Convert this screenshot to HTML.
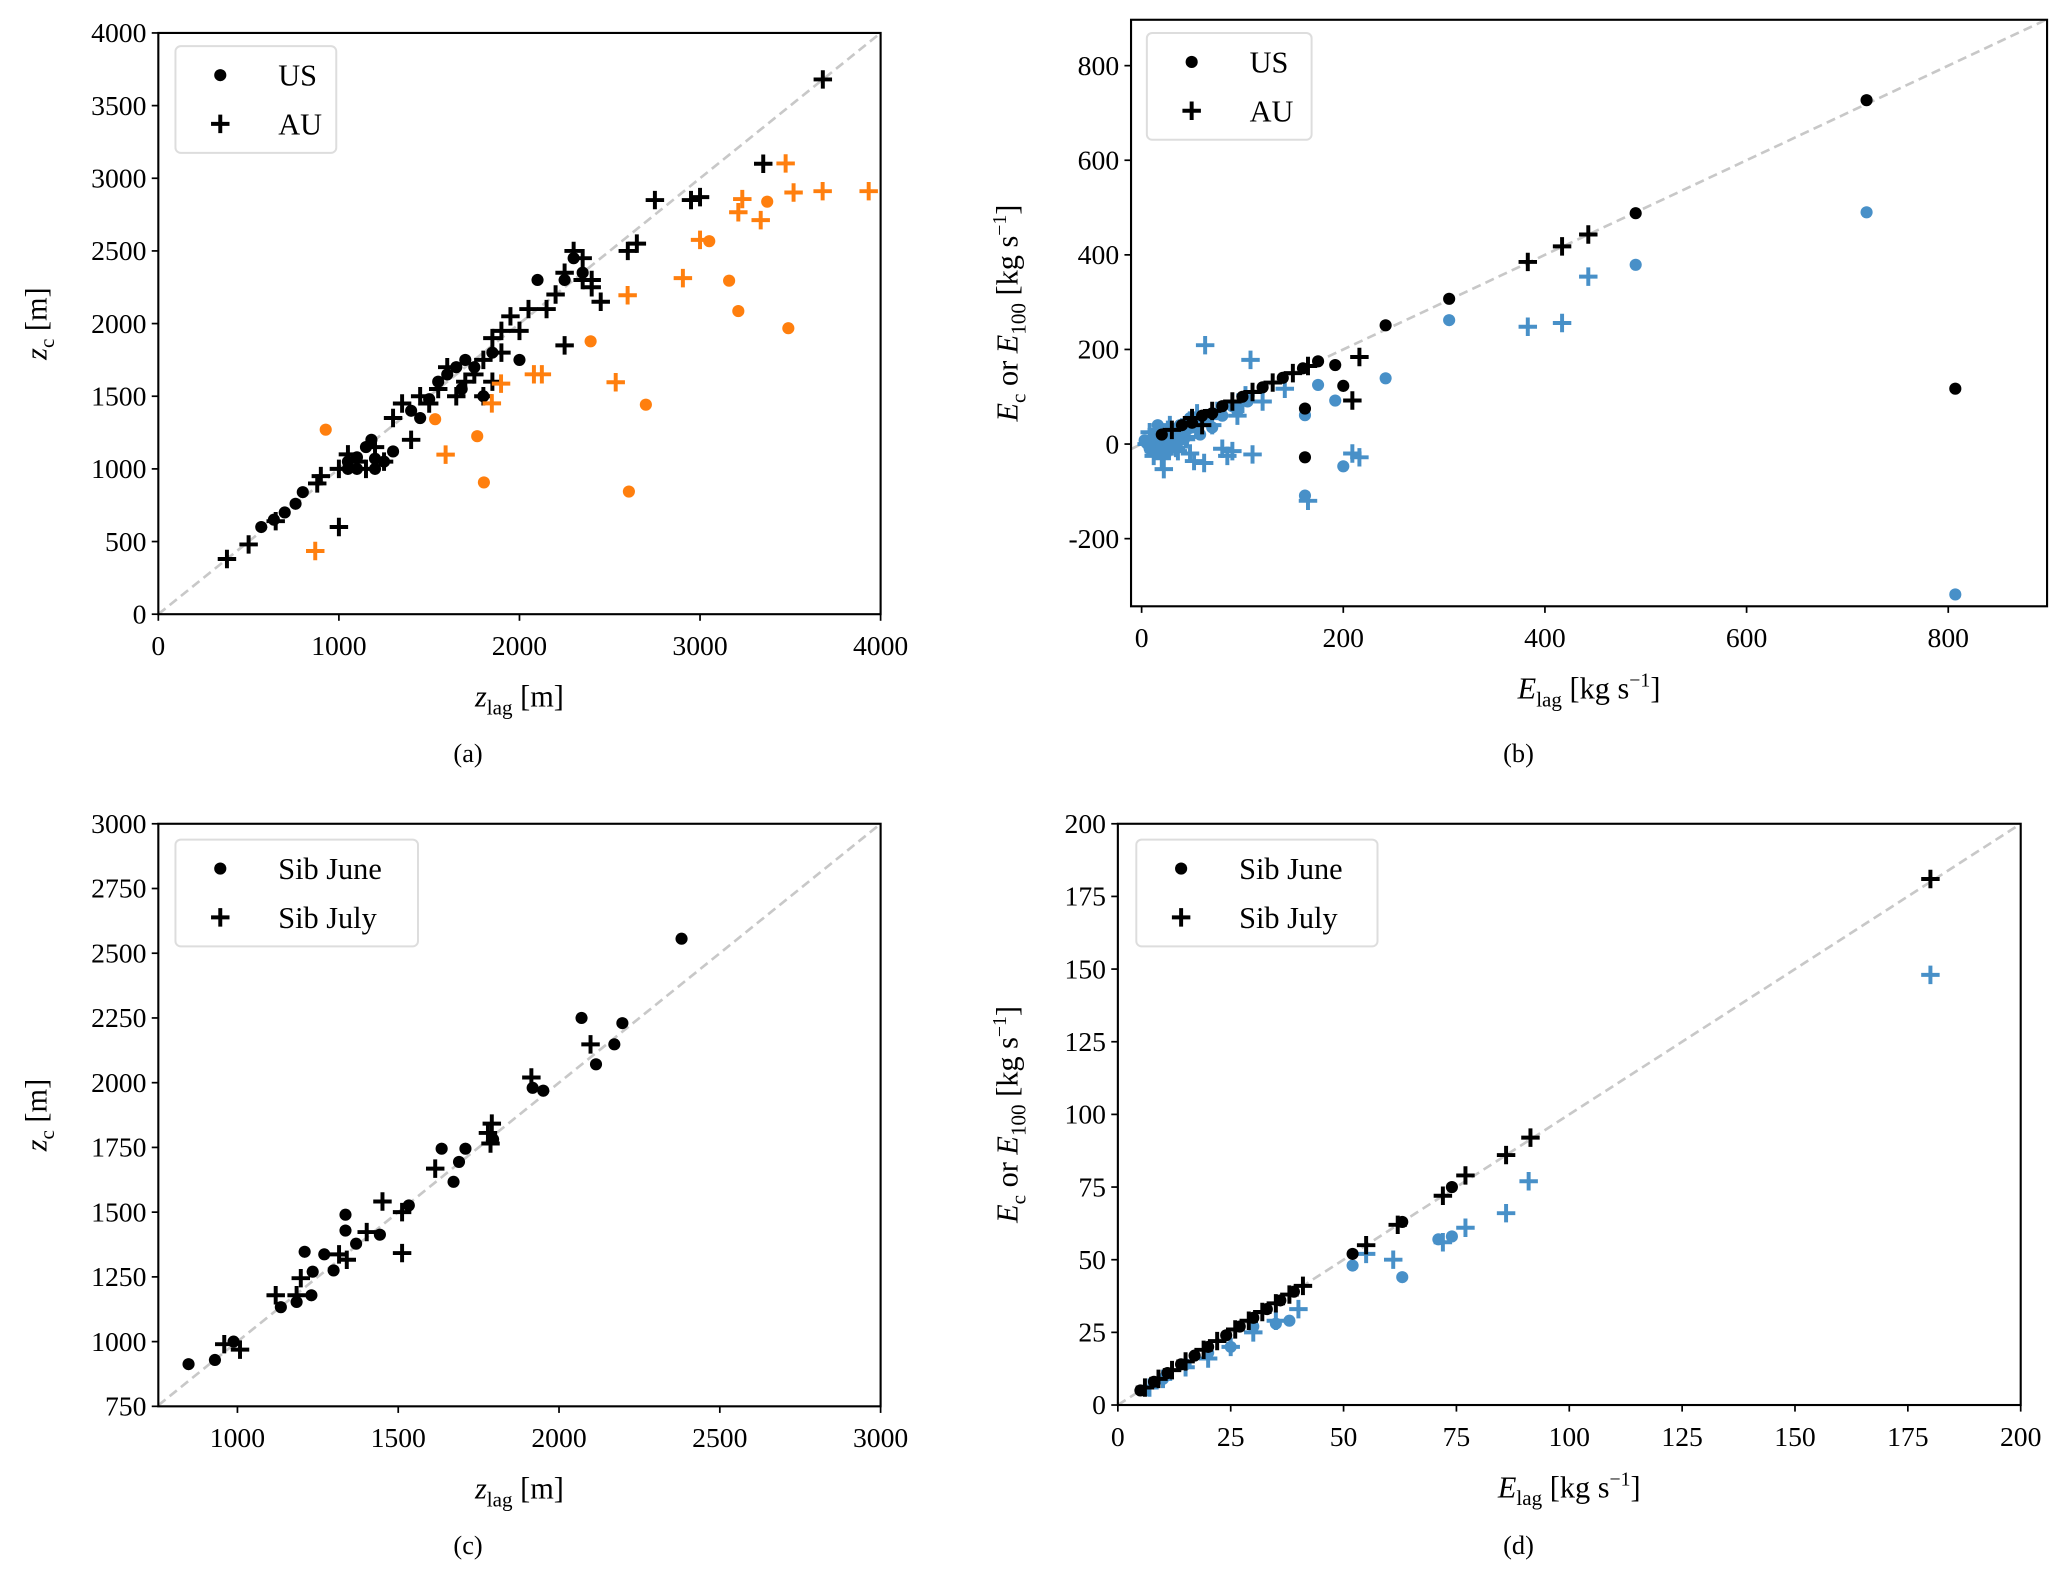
<!DOCTYPE html>
<html><head><meta charset="utf-8"><style>
html,body{margin:0;padding:0;background:#fff}
svg{display:block}
text{font-family:"Liberation Serif","DejaVu Serif",serif;fill:#000}
</style></head><body>
<svg id="fig" width="2067" height="1579" viewBox="0 0 1568 1198" xmlns="http://www.w3.org/2000/svg"></svg>
<script>
// ---------- DATA ----------
const aUSx=[570,640,700,760,800,1050,1100,1150,1180,1200,1250,1300,1400,1450,1500,1550,1600,1650,1680,1700,1750,1800,1850,2000,2100,2250,2300,2350,1200,1050,1100];
const aUSy=[600,650,700,760,840,1050,1080,1150,1200,1000,1050,1120,1400,1350,1480,1600,1650,1700,1550,1750,1700,1500,1800,1750,2300,2300,2450,2350,1070,1000,1000];
const aAUx=[380,500,1000,650,880,900,1000,1050,1100,1150,1200,1250,1300,1350,1400,1450,1500,1550,1600,1650,1700,1750,1800,1850,1900,1950,2000,2050,2150,2200,2250,2300,2350,2400,2450,2250,2650,2600,2750,2950,3000,3350,3680,1850,1800,1900,2400,2350];
const aAUy=[380,480,600,640,900,950,1000,1100,1050,1000,1150,1050,1350,1450,1200,1500,1450,1550,1700,1500,1600,1650,1750,1900,1950,2050,1950,2100,2100,2200,2350,2500,2300,2300,2150,1850,2550,2500,2850,2850,2870,3100,3680,1600,1500,1800,2250,2450];
const aUS2x=[927,1533,1766,1803,2394,2606,2700,3051,3161,3212,3372,3489];
const aUS2y=[1270,1342,1225,907,1878,844,1442,2567,2295,2086,2839,1968];
const aAU2x=[869,1591,1847,1898,2080,2124,2533,2599,2905,3000,3212,3234,3336,3474,3518,3679,3934];
const aAU2y=[435,1098,1451,1587,1651,1651,1596,2195,2313,2576,2766,2857,2712,3102,2902,2911,2911];
const bUSx=[719,490,305,242,807,200,162,192,162,20,40,60,80,100,120,140,160,175,50,70];
const bUSy=[727,488,307,251,117,123,-28,167,75,20,40,60,80,100,120,140,160,175,45,65];
const bAUx=[443,417,383,216,209,30,50,70,90,110,130,150,165,60];
const bAUy=[443,418,385,184,92,30,55,70,90,110,130,150,165,40];
const bUS2x=[719,490,305,242,807,162,175,192,200,162,5,10,15,20,25,30,35,40,45,50,12,22,28,38,55,65,80,95,18,8,3,7,14,26,33,42,58,70,90,105,16,24,36,48];
const bUS2y=[490,379,262,139,-318,61,125,92,-47,-109,2,5,-5,10,15,20,-8,25,30,35,-15,0,12,40,45,50,60,70,28,-10,8,-3,18,-12,30,10,20,35,80,90,40,-20,5,55];
const bAU2x=[63,108,443,417,383,216,209,165,22,52,110,103,142,5,12,18,25,32,40,48,58,70,85,95,15,30,45,65,80,120,8,20,28,36,44,55,62,75,90,100,26,34,12,50];
const bAU2y=[209,178,354,256,248,-28,-20,-120,-53,-36,-22,103,117,0,10,-12,20,5,35,-20,50,40,-25,60,30,-5,15,55,-10,90,25,-30,40,-15,10,65,-40,70,-15,85,30,-8,-25,48];
const cJunx=[848,930,988,1135,1184,1230,1209,1270,1336,1336,1369,1443,1533,1635,1709,1672,1689,1795,1918,1951,2070,2172,2197,2115,2381,1234,1299];
const cJuny=[913,929,1000,1133,1153,1179,1347,1337,1429,1490,1378,1413,1526,1745,1745,1617,1694,1781,1980,1969,2250,2148,2230,2071,2556,1270,1275];
const cJulx=[959,1008,1119,1184,1197,1316,1340,1402,1451,1512,1512,1615,1779,1791,1787,1914,2098];
const cJuly=[990,969,1179,1179,1245,1337,1316,1423,1541,1500,1342,1668,1806,1842,1765,2020,2148];
const dJunx=[52,63,74,5,8,11,14,17,20,24,27,30,33,36,39];
const dJuny=[52,63,75,5,8,11,14,17,20,24,27,30,33,36,39];
const dJulx=[180,91.4,86,77,72,62,55,6,9,12,15,19,22,26,29,32,35,38,41];
const dJuly=[181,92,86,79,72,62,55,6,9,12,15,19,22,26,29,32,35,38,41];
const dJun2x=[63,52,74,71,38,35,30,25,20,15,10,6];
const dJun2y=[44,48,58,57,29,28,27,20,18,14,9,5];
const dJul2x=[180,91,86,77,61,55,72,40,35,30,25,20,15,10,7];
const dJul2y=[148,77,66,61,50,52,56,33,29,25,20,16,13,9,6];
const aTicks=[0,1000,2000,3000,4000];
const aYTicks=[0,500,1000,1500,2000,2500,3000,3500,4000];
const bXTicks=[0,200,400,600,800];
const bYTicks=[-200,0,200,400,600,800];
const cXTicks=[1000,1500,2000,2500,3000];
const cYTicks=[750,1000,1250,1500,1750,2000,2250,2500,2750,3000];
const dTicks=[0,25,50,75,100,125,150,175,200];

const NS="http://www.w3.org/2000/svg";
const svg=document.getElementById('fig');
function mk(tag,attrs,parent){const e=document.createElementNS(NS,tag);for(const k in attrs)e.setAttribute(k,attrs[k]);(parent||svg).appendChild(e);return e;}
const BLACK="#000",ORANGE="#ff7f0e",BLUE="#4890c8";

function panel(p){
  const g=mk('g',{});
  
  
  const sx=v=>p.L+(v-p.x0)/(p.x1-p.x0)*(p.R-p.L);
  const sy=v=>p.B-(v-p.y0)/(p.y1-p.y0)*(p.B-p.T);
  const lo=Math.max(p.x0,p.y0),hi=Math.min(p.x1,p.y1);
  const d=mk('line',{x1:sx(lo),y1:sy(lo),x2:sx(hi),y2:sy(hi),stroke:"#c8c8c8","stroke-width":2,"stroke-dasharray":"7,4"},g);
  
  
  p.series.forEach(s=>{
    const sg=mk('g',{},g);
    
    
    s.x.forEach((xv,i)=>{
      const X=sx(xv),Y=sy(s.y[i]);
      if(s.m==='o'){
        const c=mk('circle',{cx:X,cy:Y,r:4.6,fill:s.c},sg);
        
        
      }else{
        const pth=mk('path',{d:`M${X-7} ${Y}H${X+7}M${X} ${Y-7}V${Y+7}`,stroke:s.c,"stroke-width":3},sg);
        
        
      }
    });
  });
  const fr=mk('rect',{x:p.L,y:p.T,width:p.R-p.L,height:p.B-p.T,fill:"none",stroke:"#000","stroke-width":1.6},g);
  
  
  p.xt.forEach(v=>{const X=sx(v);
    mk('line',{x1:X,y1:p.B,x2:X,y2:p.B+5,stroke:"#000","stroke-width":1.3},g);
    const t=mk('text',{x:X,y:p.B+31,"text-anchor":"middle","font-size":21},g);t.textContent=v;
    
    });
  p.yt.forEach(v=>{const Y=sy(v);
    mk('line',{x1:p.L,y1:Y,x2:p.L-5,y2:Y,stroke:"#000","stroke-width":1.3},g);
    const t=mk('text',{x:p.L-9,y:Y+7,"text-anchor":"end","font-size":21},g);t.textContent=v;
    
    });
  const lg=mk('g',{},g);
  
  
  mk('rect',{x:p.lx,y:p.ly,width:p.lw,height:81,rx:4,fill:"#fff","fill-opacity":0.85,stroke:"#ddd","stroke-width":1.5},lg);
  p.leg.forEach((lab,i)=>{const Y=p.ly+22+i*37;const X=p.lx+34;
    if(i===0)mk('circle',{cx:X,cy:Y,r:4.6,fill:"#000"},lg);
    else mk('path',{d:`M${X-7} ${Y}H${X+7}M${X} ${Y-7}V${Y+7}`,stroke:"#000","stroke-width":3},lg);
    const t=mk('text',{x:p.lx+78,y:Y+8,"font-size":23},lg);t.textContent=lab;
    
    });
  const xl=mk('text',{x:(p.L+p.R)/2,y:p.B+70,"text-anchor":"middle","font-size":23},g);xl.innerHTML=p.xlab;
  
  
  const yx=p.ylx,yy=(p.T+p.B)/2;
  const yl=mk('text',{x:yx,y:yy,"text-anchor":"middle","font-size":23,transform:`rotate(-90 ${yx} ${yy})`},g);yl.innerHTML=p.ylab;
  
  
  const cap=mk('text',{x:p.capx,y:p.capy,"text-anchor":"middle","font-size":20},g);cap.textContent=p.cap;
  
  
}
const zlag='<tspan font-style="italic">z</tspan><tspan font-size="16" dy="6">lag</tspan><tspan dy="-6"> [m]</tspan>';
const zc='<tspan font-style="italic">z</tspan><tspan font-size="16" dy="6">c</tspan><tspan dy="-6"> [m]</tspan>';
const elag='<tspan font-style="italic">E</tspan><tspan font-size="16" dy="6">lag</tspan><tspan dy="-6"> [kg s</tspan><tspan font-size="15" dy="-9">−1</tspan><tspan dy="9">]</tspan>';
const ec='<tspan font-style="italic">E</tspan><tspan font-size="16" dy="6">c</tspan><tspan dy="-6"> or </tspan><tspan font-style="italic">E</tspan><tspan font-size="16" dy="6">100</tspan><tspan dy="-6"> [kg s</tspan><tspan font-size="15" dy="-9">−1</tspan><tspan dy="9">]</tspan>';

panel({name:'panel-a',L:120,R:668,T:25,B:466,x0:0,x1:4000,y0:0,y1:4000,xt:aTicks,yt:aYTicks,
  lx:133,ly:35,lw:122,leg:['US','AU'],xlab:zlag,ylab:zc,ylx:35,cap:'(a)',capx:355,capy:578,
  series:[{name:'us-zc',m:'o',c:BLACK,x:aUSx,y:aUSy},{name:'au-zc',m:'+',c:BLACK,x:aAUx,y:aAUy},
          {name:'us-z100',m:'o',c:ORANGE,x:aUS2x,y:aUS2y},{name:'au-z100',m:'+',c:ORANGE,x:aAU2x,y:aAU2y}]});
panel({name:'panel-b',L:858,R:1553,T:15,B:460,x0:-10.5,x1:898,y0:-343,y1:897,xt:bXTicks,yt:bYTicks,
  lx:870,ly:25,lw:125,leg:['US','AU'],xlab:elag,ylab:ec,ylx:772,cap:'(b)',capx:1152,capy:578,
  series:[{name:'us-e100',m:'o',c:BLUE,x:bUS2x,y:bUS2y},{name:'au-e100',m:'+',c:BLUE,x:bAU2x,y:bAU2y},
          {name:'us-ec',m:'o',c:BLACK,x:bUSx,y:bUSy},{name:'au-ec',m:'+',c:BLACK,x:bAUx,y:bAUy}]});
panel({name:'panel-c',L:120,R:668,T:625,B:1067,x0:754,x1:3000,y0:750,y1:3000,xt:cXTicks,yt:cYTicks,
  lx:133,ly:637,lw:184,leg:['Sib June','Sib July'],xlab:zlag,ylab:zc,ylx:35,cap:'(c)',capx:355,capy:1179,
  series:[{name:'sib-june',m:'o',c:BLACK,x:cJunx,y:cJuny},{name:'sib-july',m:'+',c:BLACK,x:cJulx,y:cJuly}]});
panel({name:'panel-d',L:848,R:1533,T:625,B:1066,x0:0,x1:200,y0:0,y1:200,xt:dTicks,yt:dTicks,
  lx:862,ly:637,lw:183,leg:['Sib June','Sib July'],xlab:elag,ylab:ec,ylx:772,cap:'(d)',capx:1152,capy:1179,
  series:[{name:'sib-june-e100',m:'o',c:BLUE,x:dJun2x,y:dJun2y},{name:'sib-july-e100',m:'+',c:BLUE,x:dJul2x,y:dJul2y},
          {name:'sib-june-ec',m:'o',c:BLACK,x:dJunx,y:dJuny},{name:'sib-july-ec',m:'+',c:BLACK,x:dJulx,y:dJuly}]});
</script>
</body></html>
